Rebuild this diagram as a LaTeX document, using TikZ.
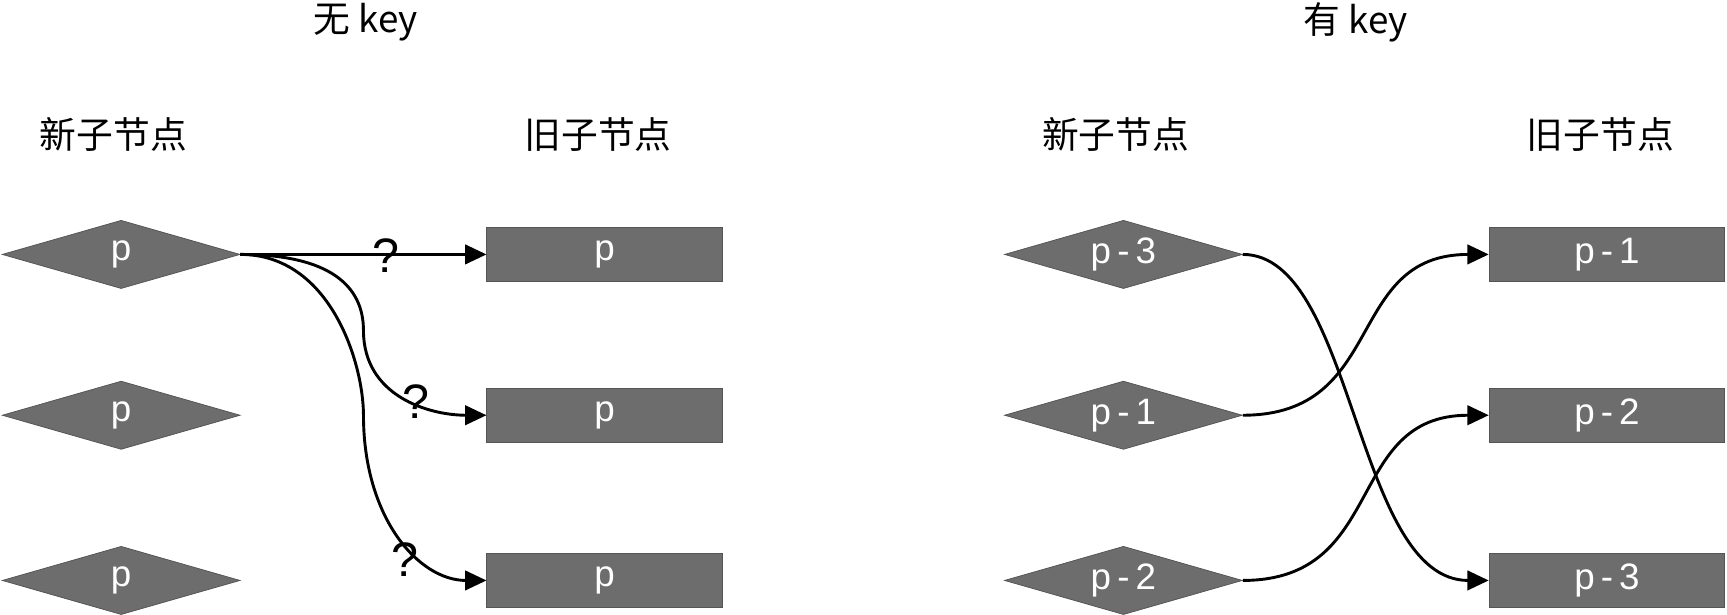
\documentclass[tikz,border=0pt]{standalone}
\usepackage{fontspec}
\setmainfont{Liberation Sans}
\newfontfamily\cjk{Noto Sans CJK SC}
\usetikzlibrary{shapes.geometric,arrows.meta}
\definecolor{boxgray}{HTML}{6D6D6D}
\definecolor{edgegray}{HTML}{555555}
\tikzset{
	newnode/.style={diamond, shape aspect=3.48, fill=boxgray, draw=edgegray, minimum width=4.32cm, minimum height=1.24cm, inner sep=0pt, text=white, font=\fontsize{19}{19}\selectfont},
	oldnode/.style={rectangle, fill=boxgray, draw=edgegray, minimum width=4.28cm, minimum height=0.98cm, inner sep=0pt, text=white, font=\fontsize{19}{19}\selectfont},
	headtext/.style={font=\fontsize{19}{19}\selectfont\cjk},
	link/.style={line width=1.5pt, -{Triangle[length=11pt,width=10pt]}},
	qmark/.style={font=\fontsize{25}{25}\selectfont}
}
\begin{document}
\begin{tikzpicture}[x=0.02cm, y=-0.02cm]
		\useasboundingbox (0,0) rectangle (1568,558);
		
		%without key
		\node[headtext] (T1) at (332,20) {无 key};
		\node[headtext] (N1) at (103,122) {新子节点};
		\node[headtext] (O1) at (543,122) {旧子节点};
		\foreach \i/\y in {1/231, 2/377, 3/527}{
			\node[newnode] (a\i) at (110,\y) {p};
			\node[oldnode] (b\i) at (549,\y) {p};
		}
		\draw[link] (a1.east) -- (b1.west);
		\draw[link] (a1.east) .. controls (300,231) and (330,260) .. (330,300)
			.. controls (330,360) and (390,377) .. (b2.west);
		\draw[link] (a1.east) .. controls (300,231) and (330,330) .. (330,377)
			.. controls (330,470) and (380,527) .. (b3.west);
		\node[qmark] (q1) at (350,232) {?};
		\node[qmark] (q2) at (378,365) {?};
		\node[qmark] (q3) at (368,508) {?};
		
		%with key
		\node[headtext] (T2) at (1231,20) {有 key};
		\node[headtext] (N2) at (1013,122) {新子节点};
		\node[headtext] (O2) at (1453,122) {旧子节点};
		\node[newnode] (c3) at (1020,231) {p\,-\,3};
		\node[newnode] (c1) at (1020,377) {p\,-\,1};
		\node[newnode] (c2) at (1020,527) {p\,-\,2};
		\node[oldnode] (d1) at (1459,231) {p\,-\,1};
		\node[oldnode] (d2) at (1459,377) {p\,-\,2};
		\node[oldnode] (d3) at (1459,527) {p\,-\,3};
		\draw[link] (c3.east) .. controls (1230,231) and (1230,527) .. (d3.west);
		\draw[link] (c1.east) .. controls (1260,377) and (1220,231) .. (d1.west);
		\draw[link] (c2.east) .. controls (1260,527) and (1220,377) .. (d2.west);
	\end{tikzpicture}
\end{document}
